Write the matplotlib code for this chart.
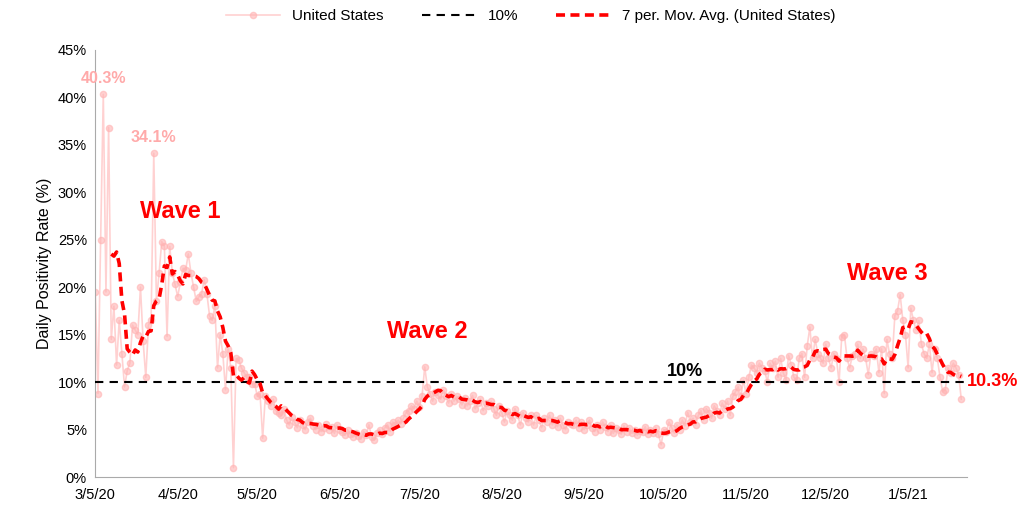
import matplotlib
matplotlib.use("Agg")
import matplotlib.pyplot as plt
import pandas as pd

start_date = "2020-03-05"
positivity = [
 19.5, 8.8, 25, 40.3, 19.5, 36.8, 14.5, 18, 11.8, 16.5, 13, 9.5, 11.2, 12, 16, 15.5, 15, 20, 14.3, 10.5,
 16, 16.5, 34.1, 18.5, 21.5, 24.8, 24.3, 14.8, 24.3, 21.5, 20.3, 19, 20.5, 22, 21.8, 23.5, 21.5, 20, 18.5, 19,
 19.3, 20.8, 19.3, 17, 16.5, 18, 11.5, 15, 13, 9.2, 13.5, 11.5, 1.0, 12.5, 12.3, 11.5, 11, 10.5, 10.5, 9.8,
 9.8, 8.5, 8.8, 4.1,
 8.5, 8.0, 7.5, 8.2, 7.0, 6.8, 6.5, 7.2, 6.0, 5.5, 6.3, 5.8, 5.2, 6.0, 5.5, 5.0, 5.8, 6.2, 5.4, 5.0, 5.5, 4.8, 5.2, 5.6,
 5.0, 5.3, 4.6, 5.5, 5.0, 4.8, 4.4, 5.0, 4.5, 4.2, 4.6, 4.3, 4.0, 4.8, 4.4, 5.5, 4.2, 3.9, 4.6, 5.0, 4.5, 5.2, 5.5, 4.8, 5.8, 5.5, 6.0, 5.6, 6.2, 6.8,
 7.0, 7.5, 7.2, 8.0, 7.4, 8.5, 11.6, 9.5, 8.8, 8.0, 9.0, 8.6, 8.2, 9.2, 8.5, 7.8, 8.8, 8.0, 8.5, 8.2, 7.6, 8.3, 7.5, 8.0, 8.6, 7.2, 7.8, 8.2, 7.0, 7.8, 7.5,
 8.0, 7.2, 6.5, 7.5, 6.8, 5.8, 7.0, 6.5, 6.0, 7.2, 6.5, 5.5, 6.8, 6.2, 5.8, 6.5, 5.5, 6.5, 6.0, 5.2, 6.2, 5.8, 6.5, 5.5, 6.0, 5.3, 6.2, 5.5, 5.0, 5.8, 5.6,
 5.5, 6.0, 5.2, 5.8, 5.0, 5.5, 6.0, 5.2, 4.8, 5.5, 5.0, 5.8, 5.3, 4.8, 5.5, 4.6, 5.2, 5.0, 4.5, 5.4, 4.8, 5.2, 4.6, 5.0, 4.4, 4.9, 4.7, 5.3, 4.5, 5.0,
 4.6, 5.2, 4.5, 3.4, 5.0, 4.8, 5.8, 5.2, 4.6, 5.5, 5.0, 6.0, 5.4, 6.8, 5.8, 6.2, 5.5, 6.5, 7.0, 6.0, 7.2, 6.8, 6.2, 7.5, 7.0, 6.5, 7.8, 7.2, 8.0, 6.5, 8.5,
 9.0, 9.5, 8.5, 10.2, 8.8, 10.5, 11.8, 11.5, 11.0, 12.0, 11.5, 11.2, 10.0, 12.0, 11.5, 12.2, 10.5, 12.5, 11.0, 10.2, 12.8, 11.8, 10.5, 10.2, 12.5, 13.0, 10.5, 13.8, 15.8, 12.5,
 14.5, 13.0, 12.5, 12.0, 14.0, 12.5, 11.5, 13.0, 12.5, 10.0, 14.8, 15.0, 12.5, 11.5, 12.8, 13.0, 14.0, 12.5, 13.5, 12.5, 10.8, 13.0, 12.8, 13.5, 11.0, 13.5, 8.8, 14.5, 13.0, 12.5, 17.0,
 17.5, 19.2, 16.5, 15.0, 11.5, 17.8, 16.5, 15.5, 16.5, 14.0, 13.0, 12.5, 14.0, 11.0, 13.5, 12.5, 10.5, 9.0, 9.2, 11.5, 11.0, 12.0, 11.5, 10.8, 8.2,
]
threshold = 10
tick_dates = ["2020-03-05", "2020-04-05", "2020-05-05", "2020-06-05", "2020-07-05", "2020-08-05",
              "2020-09-05", "2020-10-05", "2020-11-05", "2020-12-05", "2021-01-05"]
tick_labels = ["3/5/20", "4/5/20", "5/5/20", "6/5/20", "7/5/20", "8/5/20",
               "9/5/20", "10/5/20", "11/5/20", "12/5/20", "1/5/21"]

dates = pd.date_range(start_date, periods=len(positivity), freq="D")
s = pd.Series(positivity, index=dates)
ma = s.rolling(7).mean()

plt.rcParams['font.family'] = ['Liberation Sans', 'DejaVu Sans']
fig = plt.figure(figsize=(10.25, 5.13), dpi=100)
ax = fig.add_axes([0.093, 0.07, 0.85, 0.833])

ax.plot(dates, s.values, color="#ffb3b3", lw=1.2, marker="o", ms=4.5, alpha=0.6,
        label="United States", zorder=2)
ax.axhline(threshold, color="black", ls=(0, (4, 3)), lw=1.5, label="10%", zorder=3)
ax.plot(dates, ma.values, color="red", ls=(0, (2.5, 1.5)), lw=2.6,
        label="7 per. Mov. Avg. (United States)", zorder=4)

ax.set_ylim(0, 45)
ax.set_yticks(range(0, 46, 5))
ax.set_yticklabels([f"{v}%" for v in range(0, 46, 5)])
ax.set_xlim(pd.Timestamp("2020-03-05"), pd.Timestamp("2021-01-27"))
ax.set_xticks(pd.to_datetime(tick_dates))
ax.set_xticklabels(tick_labels)
ax.tick_params(labelsize=10.5, length=0)
ax.tick_params(axis="x", pad=8)
ax.tick_params(axis="y", pad=6)
ax.set_ylabel("Daily Positivity Rate (%)", fontsize=11.5)
for sp in ["top", "right"]:
    ax.spines[sp].set_visible(False)
for sp in ["left", "bottom"]:
    ax.spines[sp].set_color("#aaaaaa")

pink = "#ffaaaa"
ax.text(dates[3], 41.5, "40.3%", color=pink, fontsize=11.5, fontweight="bold", ha="center")
ax.text(dates[22], 35.3, "34.1%", color=pink, fontsize=11.5, fontweight="bold", ha="center")
ax.text(dates[32], 27.3, "Wave 1", color="red", fontsize=17, fontweight="bold", ha="center")
ax.text(dates[125], 14.6, "Wave 2", color="red", fontsize=17, fontweight="bold", ha="center")
ax.text(dates[298], 20.8, "Wave 3", color="red", fontsize=17, fontweight="bold", ha="center")
ax.text(dates[222], 10.6, "10%", color="black", fontsize=13, fontweight="bold", ha="center")
ax.text(dates[-1] + pd.Timedelta(days=2), 9.6, "10.3%", color="red", fontsize=13,
        fontweight="bold", ha="left", clip_on=False)

ax.legend(loc="lower center", bbox_to_anchor=(0.5, 1.03), ncol=3, frameon=False, fontsize=11,
          handlelength=3.5, columnspacing=2.5)
fig.savefig("out.png", dpi=100)
